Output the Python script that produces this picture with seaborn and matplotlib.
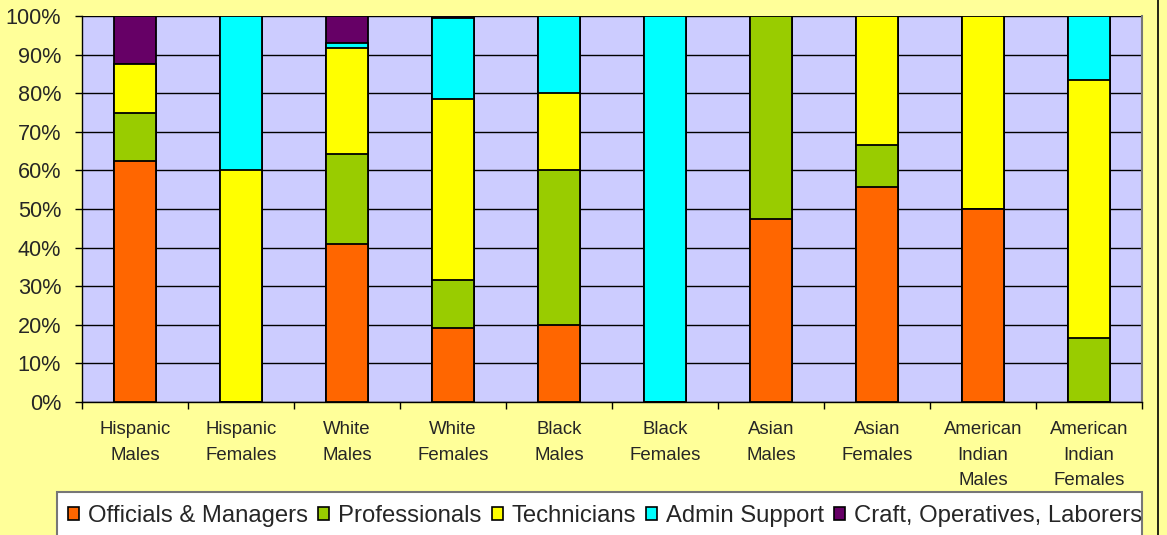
"""
Occupational distribution by race and sex - stacked 100% bars
"""

import matplotlib.pyplot as plt
import matplotlib.ticker as mticker
import numpy as np
import seaborn as sns
from matplotlib.lines import Line2D
from matplotlib.patches import Patch, Rectangle

# Estilo
sns.set_style("ticks")
plt.rcParams["font.family"] = ["Liberation Sans", "DejaVu Sans"]

# Dados (percentual de cada grupo)
grupos = [
    "Hispanic\nMales",
    "Hispanic\nFemales",
    "White\nMales",
    "White\nFemales",
    "Black\nMales",
    "Black\nFemales",
    "Asian\nMales",
    "Asian\nFemales",
    "American\nIndian\nMales",
    "American\nIndian\nFemales",
]
series = [
    "Officials & Managers",
    "Professionals",
    "Technicians",
    "Admin Support",
    "Craft, Operatives, Laborers",
]
officials = [62.5, 0, 41.0, 19.2, 20, 0, 47.4, 55.6, 50, 0]
professionals = [12.5, 0, 23.2, 12.4, 40, 0, 52.6, 11.1, 0, 16.7]
technicians = [12.5, 60, 27.4, 46.9, 20, 0, 0, 33.3, 50, 66.6]
admin_support = [0, 40, 1.3, 20.9, 20, 100, 0, 0, 0, 16.7]
craft = [12.5, 0, 7.1, 0.6, 0, 0, 0, 0, 0, 0]

cores = ["#FF6600", "#99CC00", "#FFFF00", "#00FFFF", "#660066"]

valores = np.array([officials, professionals, technicians, admin_support, craft])
acumulado = np.cumsum(valores, axis=0)

W, H = 1167, 535
fig = plt.figure(figsize=(W / 100, H / 100), dpi=100, facecolor="#FFFF99")
ax = fig.add_axes([82 / W, 1 - 402 / H, 1060 / W, 386 / H])
ax.set_facecolor("#CCCCFF")

# Barras empilhadas: desenha do topo para a base
for i in range(len(series) - 1, -1, -1):
    sns.barplot(
        x=grupos,
        y=acumulado[i],
        color=cores[i],
        saturation=1,
        width=0.4,
        edgecolor="black",
        linewidth=1.3,
        ax=ax,
        zorder=3,
    )

ax.set_ylim(0, 100)
ax.set_xlim(-0.5, len(grupos) - 0.5)
ax.yaxis.set_major_locator(mticker.MultipleLocator(10))
ax.yaxis.set_major_formatter(mticker.FuncFormatter(lambda v, p: f"{v:.0f}%"))
ax.grid(axis="y", color="black", linewidth=1.0, zorder=0)
ax.set_axisbelow(True)

# ticks do eixo x nas divisões entre categorias
ax.set_xticks(range(len(grupos)))
ax.set_xticklabels(grupos, fontsize=13.4, linespacing=1.62, va="top")
ax.set_xticks(np.arange(-0.5, len(grupos)), minor=True)
ax.tick_params(axis="x", which="major", length=0, pad=14)
ax.tick_params(axis="x", which="minor", length=5, width=1, color="black")
ax.tick_params(axis="y", length=5, width=1, labelsize=15.6, pad=10, color="black")
ax.set_xlabel("")
ax.set_ylabel("")

for lado in ["left", "bottom"]:
    ax.spines[lado].set_color("black")
    ax.spines[lado].set_linewidth(1.0)
ax.spines["top"].set_visible(False)
ax.spines["right"].set_color("#777777")
ax.spines["right"].set_linewidth(1.5)

# Caixa da legenda (texto passa da borda como no original)
fig.add_artist(
    Rectangle(
        (57 / W, -0.05),
        (1142 - 57) / W,
        1 - 492 / H + 0.05,
        transform=fig.transFigure,
        facecolor="white",
        edgecolor="#777777",
        linewidth=1.5,
        zorder=1,
    )
)

handles = [Patch(facecolor=c, edgecolor="black", linewidth=1.2) for c in cores]
leg = fig.legend(
    handles,
    series,
    loc="center left",
    bbox_to_anchor=(68 / W, 1 - 516 / H),
    ncol=5,
    fontsize=17.2,
    frameon=False,
    handlelength=0.46,
    handleheight=0.46,
    handletextpad=0.38,
    columnspacing=0.42,
    borderpad=0,
    borderaxespad=0,
)
leg.set_zorder(2)

# borda direita da área do gráfico
fig.add_artist(
    Line2D([1158 / W, 1158 / W], [0, 1], transform=fig.transFigure, color="black", linewidth=1.2)
)

plt.savefig("out.png", dpi=100, facecolor=fig.get_facecolor())
plt.close()
